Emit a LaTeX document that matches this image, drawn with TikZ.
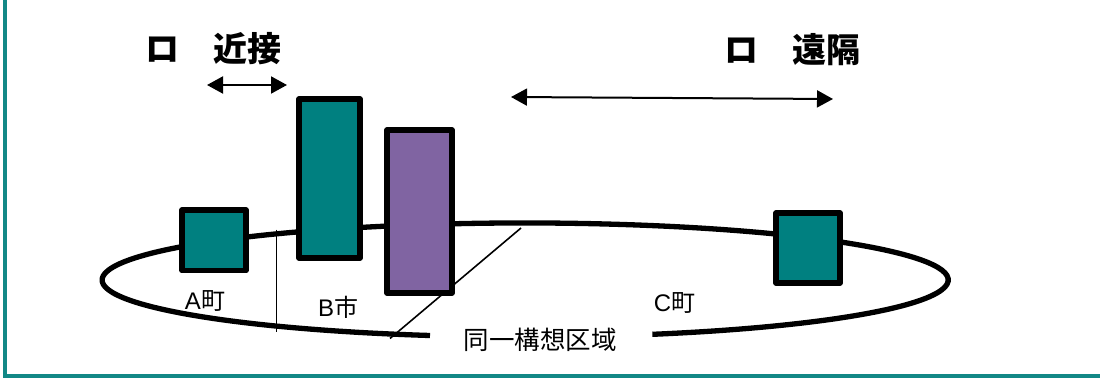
\documentclass[tikz,border=0pt]{standalone}
\usepackage{fontspec}
\newfontfamily\cjk{Noto Sans CJK JP}
\newfontfamily\lat{Liberation Sans}
\usetikzlibrary{arrows.meta}
\definecolor{tealbox}{RGB}{0,128,128}
\definecolor{frameteal}{RGB}{18,136,134}
\definecolor{purplebox}{RGB}{128,100,162}
\tikzset{
  box/.style={draw=black, line width=5.5pt, line join=round, inner sep=0pt, outer sep=0pt},
  thinline/.style={draw=black, line width=1.6pt},
  heading/.style={anchor=west, inner sep=0pt, font=\cjk\bfseries\fontsize{34}{40}\selectfont},
  place/.style={inner sep=0pt, font=\fontsize{24}{28}\selectfont},
  darr/.style={line width=2pt, {Triangle[length=16pt,width=17pt]}-{Triangle[length=16pt,width=17pt]}}
}
\begin{document}
\begin{tikzpicture}[x=1pt,y=-1pt]
\useasboundingbox (0,0) rectangle (1100,382);
% frame
\draw[frameteal, line width=4pt] (5,-5) -- (5,376) -- (1105,376);
% region ellipse (open at the bottom for the label)
\draw[line width=5.3pt] (430,335.5) arc[start angle=103, end angle=432.5, x radius=423, y radius=57];
% dividing lines
\draw[thinline] (276.3,229.5) -- (276.3,331.7);
\draw[thinline] (521,228) -- (390,338.5);
% boxes
\node[box, fill=tealbox, minimum width=64pt, minimum height=60.5pt] (A) at (214,240.3) {};
\node[box, fill=tealbox, minimum width=61pt, minimum height=159pt] (B) at (329.5,178.5) {};
\node[box, fill=purplebox, minimum width=65pt, minimum height=163pt] (P) at (419.5,211.5) {};
\node[box, fill=tealbox, minimum width=64pt, minimum height=70pt] (C) at (808,248) {};
% labels
\node[place] (la) at (205,301) {{\lat A}{\cjk 町}};
\node[place] (lb) at (338,307.5) {{\lat B}{\cjk 市}};
\node[place] (lc) at (674.5,303) {{\lat C}{\cjk 町}};
\node[place, font=\cjk\fontsize{25.5}{30}\selectfont] (area) at (540,339.5) {同一構想区域};
% headings
\node[heading] (near) at (145,49) {ロ　近接};
\node[heading] (far) at (724,50) {ロ　遠隔};
% arrows
\coordinate (n1) at (207,85);
\coordinate (n2) at (287,85);
\coordinate (f1) at (511,97);
\coordinate (f2) at (833,99);
\draw[darr] (n1) -- (n2);
\draw[darr] (f1) -- (f2);
\end{tikzpicture}
\end{document}
